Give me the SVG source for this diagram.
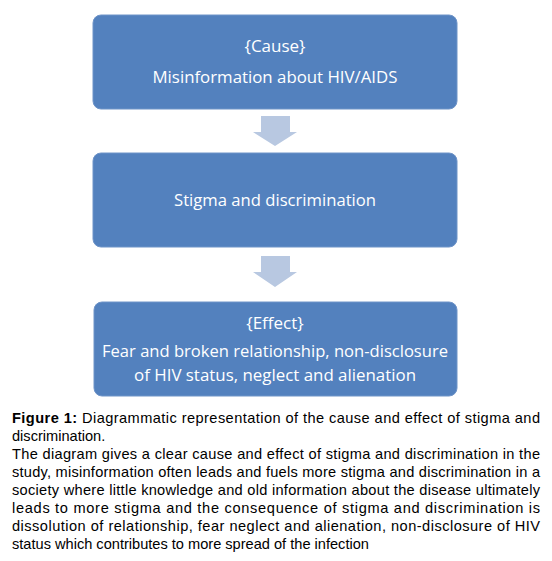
<svg xmlns="http://www.w3.org/2000/svg" width="552" height="561" viewBox="0 0 552 561">
<style>
.box{fill:#5381BE;stroke:#6F94C8;stroke-width:1}
.bt{font-family:"Open Sans","Noto Sans",sans-serif;font-size:17px;fill:#FFFFFF;text-anchor:middle}
.arr{fill:#B8C8E1}
.cap{font-family:"Liberation Sans",Arial,sans-serif;font-size:14.6px;fill:#000000}
.b{font-weight:bold}
</style>
<rect width="552" height="561" fill="#FFFFFF"/>
<g id="cause">
<rect class="box" x="93" y="15" width="364" height="94" rx="8"/>
<text class="bt" x="275" y="52">{Cause}</text>
<text class="bt" x="275" y="83" textLength="245" lengthAdjust="spacingAndGlyphs">Misinformation about HIV/AIDS</text>
</g>
<g id="stigma">
<rect class="box" x="93" y="153" width="364" height="94" rx="8"/>
<text class="bt" x="275" y="206" textLength="202" lengthAdjust="spacingAndGlyphs">Stigma and discrimination</text>
</g>
<g id="effect">
<rect class="box" x="94" y="302" width="363" height="94" rx="8"/>
<text class="bt" x="275" y="329">{Effect}</text>
<text class="bt" x="275" y="357" textLength="346" lengthAdjust="spacingAndGlyphs">Fear and broken relationship, non-disclosure</text>
<text class="bt" x="275" y="381" textLength="282" lengthAdjust="spacingAndGlyphs">of HIV status, neglect and alienation</text>
</g>
<g id="connectors">
<polygon class="arr" points="261,116 290,116 290,132 297,132 275,146 253,132 261,132"/>
<polygon class="arr" points="261,256 290,256 290,272 297,272 275,287 253,272 261,272"/>
</g>
<g id="caption">
<text class="cap" x="12" y="423" textLength="528" lengthAdjust="spacing"><tspan class="b">Figure 1:</tspan> Diagrammatic representation of the cause and effect of stigma and</text>
<text class="cap" x="12" y="441">discrimination.</text>
<text class="cap" x="12" y="459" textLength="528" lengthAdjust="spacing">The diagram gives a clear cause and effect of stigma and discrimination in the</text>
<text class="cap" x="12" y="477" textLength="528" lengthAdjust="spacing">study, misinformation often leads and fuels more stigma and discrimination in a</text>
<text class="cap" x="12" y="495" textLength="528" lengthAdjust="spacing">society where little knowledge and old information about the disease ultimately</text>
<text class="cap" x="12" y="513" textLength="528" lengthAdjust="spacing">leads to more stigma and the consequence of stigma and discrimination is</text>
<text class="cap" x="12" y="531" textLength="528" lengthAdjust="spacing">dissolution of relationship, fear neglect and alienation, non-disclosure of HIV</text>
<text class="cap" x="12" y="549">status which contributes to more spread of the infection</text>
</g>
</svg>
